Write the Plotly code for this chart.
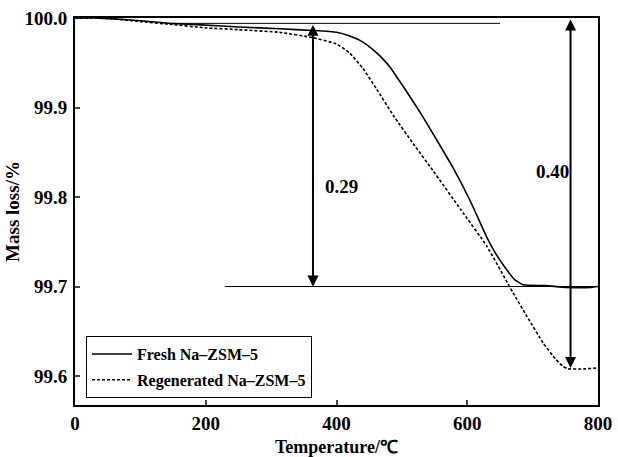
import plotly.graph_objects as go

# Data
temp_fresh = [0, 30, 60, 100, 145, 200, 250, 313, 364, 400, 420, 436, 452, 466, 482, 497, 530, 578,
              605, 630, 645, 660, 672, 685, 720, 752, 790, 800]
mass_fresh = [100.0, 100.0, 99.999, 99.997, 99.994, 99.992, 99.990, 99.988, 99.986, 99.984, 99.980, 99.975,
              99.967, 99.958, 99.945, 99.929, 99.892, 99.833, 99.795, 99.755, 99.735, 99.719, 99.708,
              99.702, 99.701, 99.699, 99.699, 99.700]

temp_regen = [0, 30, 60, 100, 145, 200, 250, 313, 364, 400, 420, 440, 461, 487, 520, 548, 590, 630,
              670, 691, 716, 735, 746, 754, 780, 800]
mass_regen = [100.0, 100.0, 99.999, 99.996, 99.993, 99.989, 99.987, 99.984, 99.978, 99.971, 99.961, 99.944,
              99.921, 99.891, 99.857, 99.829, 99.786, 99.745, 99.693, 99.667, 99.637, 99.619, 99.611,
              99.608, 99.608, 99.609]

series_names = ["Fresh Na–ZSM–5", "Regenerated Na–ZSM–5"]

# Reference lines / arrows
top_line_x = [145, 650]
top_line_y = [99.994, 99.994]
base_line_x = [229, 800]
base_line_y = [99.700, 99.700]
arrow1_x, arrow1_top, arrow1_bottom, arrow1_label = 364, 99.994, 99.700, "0.29"
arrow2_x, arrow2_top, arrow2_bottom, arrow2_label = 758, 100.0, 99.609, "0.40"
label1_pos = (408, 99.812)
label2_pos = (730, 99.829)

x_ticks = [0, 200, 400, 600, 800]
y_ticks = [99.6, 99.7, 99.8, 99.9, 100.0]
y_tick_text = ["99.6", "99.7", "99.8", "99.9", "100.0"]

FONT = "Liberation Serif"


def b(s):
    return "<b>" + s + "</b>"


fig = go.Figure()
fig.add_trace(go.Scatter(x=top_line_x, y=top_line_y, mode="lines",
                         line=dict(color="black", width=1), showlegend=False, hoverinfo="skip"))
fig.add_trace(go.Scatter(x=base_line_x, y=base_line_y, mode="lines",
                         line=dict(color="black", width=1), showlegend=False, hoverinfo="skip"))
fig.add_trace(go.Scatter(x=temp_fresh, y=mass_fresh, mode="lines", name=b(series_names[0]),
                         legendgroup="a",
                         line=dict(color="black", width=1.6, shape="spline", smoothing=0.4)))
fig.add_trace(go.Scatter(x=temp_regen, y=mass_regen, mode="lines", name=b(series_names[1]),
                         legendgroup="b",
                         line=dict(color="black", width=1.6, dash="3px,2px", shape="spline", smoothing=0.4)))

for ax_x, top, bot in [(arrow1_x, arrow1_top, arrow1_bottom), (arrow2_x, arrow2_top, arrow2_bottom)]:
    fig.add_annotation(x=ax_x, y=bot, ax=ax_x, ay=top, xref="x", yref="y", axref="x", ayref="y",
                       text="", showarrow=True, arrowhead=2, arrowside="end+start",
                       arrowsize=1.1, arrowwidth=2, arrowcolor="black")

fig.add_annotation(x=label1_pos[0], y=label1_pos[1], text=b(arrow1_label), showarrow=False,
                   xref="x", yref="y", font=dict(family=FONT, size=19, color="black"))
fig.add_annotation(x=label2_pos[0], y=label2_pos[1], text=b(arrow2_label), showarrow=False,
                   xref="x", yref="y", font=dict(family=FONT, size=19, color="black"))

fig.update_layout(
    width=618, height=457,
    margin=dict(l=75, r=20, t=18, b=52, autoexpand=False),
    paper_bgcolor="white", plot_bgcolor="white",
    font=dict(family=FONT, size=18, color="black"),
    showlegend=True,
    legend=dict(x=0.021, y=0.178, xanchor="left", yanchor="top",
                bordercolor="black", borderwidth=1, bgcolor="white",
                font=dict(family=FONT, size=16, color="black"),
                tracegroupgap=2, itemwidth=40),
)
fig.update_xaxes(range=[0, 800], tickvals=x_ticks, ticktext=[b(str(v)) for v in x_ticks],
                 ticks="inside", ticklen=5, tickwidth=1.5, ticklabelstandoff=0, automargin=False,
                 showline=True, linecolor="black", linewidth=2, mirror=True, showgrid=False, zeroline=False,
                 title=dict(text=b("Temperature/℃"), standoff=9,
                            font=dict(family=FONT, size=18)),
                 tickfont=dict(family=FONT, size=19))
fig.update_yaxes(range=[99.5676, 100.0], tickvals=y_ticks, ticktext=[b(t) for t in y_tick_text],
                 ticks="inside", ticklen=5, tickwidth=1.5, ticklabelstandoff=2, automargin=False,
                 showline=True, linecolor="black", linewidth=2, mirror=True, showgrid=False,
                 zeroline=False,
                 title=dict(text=b("Mass loss/%"), standoff=0,
                            font=dict(family=FONT, size=19)),
                 tickfont=dict(family=FONT, size=19))

fig.write_html("out.html")
